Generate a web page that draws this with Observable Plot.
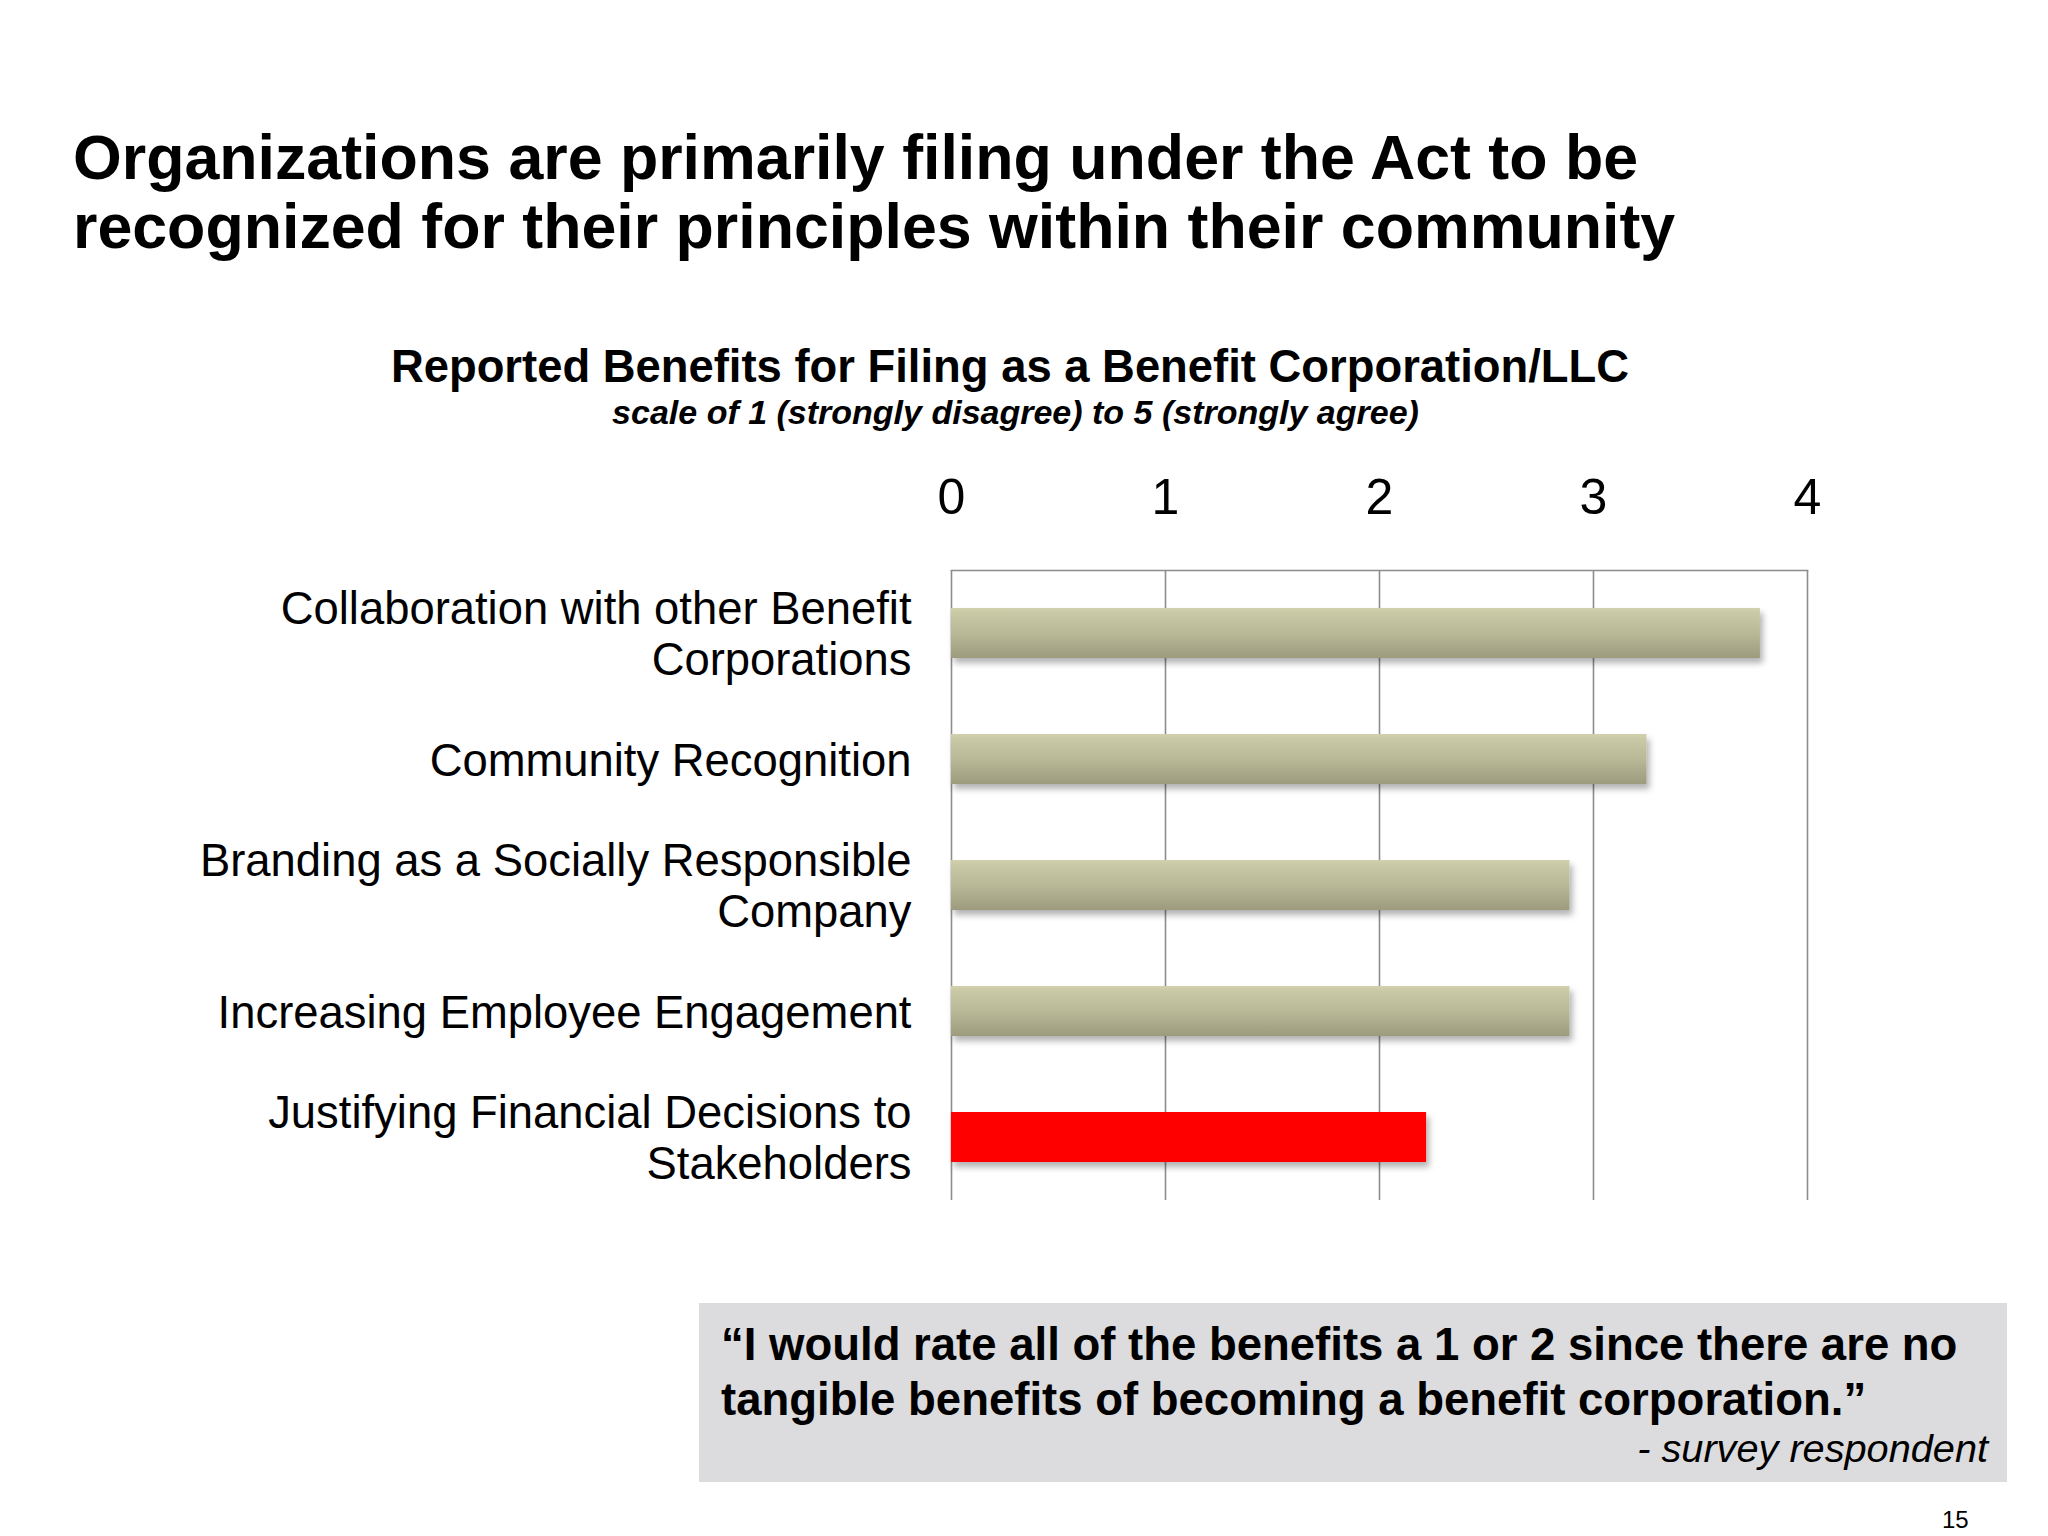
<!DOCTYPE html>
<html>
<head>
<meta charset="utf-8">
<script src="https://cdn.jsdelivr.net/npm/d3@7"></script>
<script src="https://cdn.jsdelivr.net/npm/@observablehq/plot@0.6"></script>
<style>
  html, body { margin: 0; padding: 0; background: #ffffff; }
  #page { position: relative; width: 2048px; height: 1536px; overflow: hidden; background: #ffffff;
          font-family: "Liberation Sans", Arial, Helvetica, sans-serif; color: #000; }
  #page > div { position: absolute; white-space: nowrap; }
  #chart { left: 0; top: 0; }
  #title { left: 73px; top: 123px; font-size: 62.7px; line-height: 69px; font-weight: bold; z-index: 2; }
  #ctitle { left: 0; width: 2020px; text-align: center; top: 344px; font-size: 45.4px; line-height: 46px; font-weight: bold; z-index: 2; }
  #csub { left: 0; width: 2031px; text-align: center; top: 395px; font-size: 34px; line-height: 34px; font-weight: bold; font-style: italic; z-index: 2; }
  #qbox { left: 699px; top: 1303px; width: 1308px; height: 179px; background: #dcdbdd; }
  #quote { left: 721px; top: 1317px; font-size: 45.5px; line-height: 55px; font-weight: bold; z-index: 2; }
  #attrib { right: 60px; top: 1428px; font-size: 39.7px; line-height: 40px; font-style: italic; z-index: 2; }
  #pnum { left: 1942px; top: 1508px; font-size: 24px; line-height: 24px; z-index: 2; }
</style>
</head>
<body>
<div id="page">
  <div id="chart"></div>
  <div id="title"></div>
  <div id="ctitle"></div>
  <div id="csub"></div>
  <div id="qbox"></div>
  <div id="quote"></div>
  <div id="attrib"></div>
  <div id="pnum"></div>
</div>
<script>
// ---- data ----
const categories = [
  "Collaboration with other Benefit Corporations",
  "Community Recognition",
  "Branding as a Socially Responsible Company",
  "Increasing Employee Engagement",
  "Justifying Financial Decisions to Stakeholders"
];
const categoryLabels = [
  "Collaboration with other Benefit\nCorporations",
  "Community Recognition",
  "Branding as a Socially Responsible\nCompany",
  "Increasing Employee Engagement",
  "Justifying Financial Decisions to\nStakeholders"
];
const values = [3.78, 3.25, 2.89, 2.89, 2.22];
const highlighted = ["Justifying Financial Decisions to Stakeholders"];
const xTicks = [0, 1, 2, 3, 4];

const titleText = "Organizations are primarily filing under the Act to be\nrecognized for their principles within their community";
const chartTitle = "Reported Benefits for Filing as a Benefit Corporation/LLC";
const chartSubtitle = "scale of 1 (strongly disagree) to 5 (strongly agree)";
const quoteText = "\u201cI would rate all of the benefits a 1 or 2 since there are no\ntangible benefits of becoming a benefit corporation.\u201d";
const attribution = "- survey respondent";
const pageNumber = "15";

// ---- texts ----
function setLines(id, text) {
  const el = document.getElementById(id);
  text.split("\n").forEach((line, i) => {
    if (i) el.appendChild(document.createElement("br"));
    el.appendChild(document.createTextNode(line));
  });
}
setLines("title", titleText);
setLines("ctitle", chartTitle);
setLines("csub", chartSubtitle);
setLines("quote", quoteText);
setLines("attrib", attribution);
setLines("pnum", pageNumber);

// ---- chart ----
const data = categories.map((c, i) => ({category: c, label: categoryLabels[i], value: values[i]}));
const fillOf = d => highlighted.includes(d.category) ? "#ff0000" : "url(#barGrad)";

const plot = Plot.plot({
  width: 2048,
  height: 1260,
  marginLeft: 951,
  marginRight: 241,
  marginTop: 570,
  marginBottom: 60,
  style: {fontFamily: "'Liberation Sans', Arial, sans-serif", fontSize: "45px", background: "transparent", color: "#000"},
  x: {domain: [0, 4], ticks: xTicks},
  y: {domain: categories, paddingInner: 0.6, paddingOuter: 0.3},
  color: {type: "identity"},
  marks: [
    Plot.ruleX(xTicks, {stroke: "#8c8c8c", strokeWidth: 1.6}),
    Plot.frame({anchor: "top", stroke: "#8c8c8c", strokeWidth: 1.6}),
    Plot.barX(data, {y: "category", x: "value", fill: fillOf}),
    Plot.text(data, {y: "category", x: () => 0, text: "label", textAnchor: "end", dx: -40, fontSize: 45.4, lineHeight: 1.11, fill: "#000"}),
    Plot.axisX({anchor: "top", ticks: xTicks, tickSize: 0, tickPadding: 57, fontSize: 50, tickFormat: d => String(d), label: null}),
    Plot.axisY({ticks: [], label: null, tickSize: 0})
  ]
});

const svg = d3.select(plot);
svg.insert("defs", ":first-child").html(`
  <linearGradient id="barGrad" x1="0" y1="0" x2="0" y2="1">
    <stop offset="0" stop-color="#d2d1ae"/>
    <stop offset="0.08" stop-color="#cbcaa7"/>
    <stop offset="0.5" stop-color="#b9b897"/>
    <stop offset="1" stop-color="#9c9b7e"/>
  </linearGradient>
  <filter id="barShadow" x="-5%" y="-30%" width="110%" height="170%">
    <feDropShadow dx="3" dy="5" stdDeviation="3" flood-color="#000" flood-opacity="0.3"/>
  </filter>`);
svg.selectAll("g[aria-label='bar'] rect").attr("filter", "url(#barShadow)");
document.getElementById("chart").appendChild(plot);
</script>
</body>
</html>
